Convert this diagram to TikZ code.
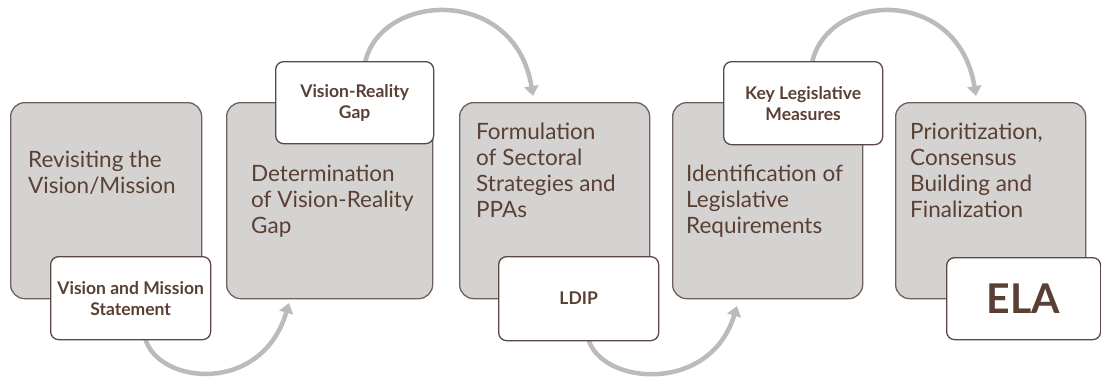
\documentclass[tikz,border=0pt]{standalone}
\usepackage{fontspec}
\setmainfont{Lato}
\usetikzlibrary{arrows.meta}
\definecolor{grayfill}{HTML}{D4D3D2}
\definecolor{grayline}{HTML}{6E605B}
\definecolor{wline}{HTML}{5A4842}
\definecolor{txt}{HTML}{5A4034}
\definecolor{arr}{HTML}{BDBAB9}
\begin{document}
\begin{tikzpicture}[x=1pt,y=-1pt,
  graybox/.style={draw=grayline, line width=1.3pt, fill=grayfill, rounded corners=14pt, inner sep=0pt, anchor=north west},
  whitebox/.style={draw=wline, line width=1.3pt, fill=white, rounded corners=8pt, inner sep=0pt, anchor=north west,
    align=center, text=txt, font=\bfseries\fontsize{17.5}{21}\selectfont},
  graytext/.style={anchor=north west, inner sep=0pt, align=left, text=txt, font=\fontsize{22.5}{26}\selectfont},
  flow/.style={draw=arr, line width=4.5pt, -{Triangle[length=10pt,width=14pt]}}]
\useasboundingbox (0,0) rectangle (1101,381);

% connector end points
\coordinate (a1s) at (145,338);
\coordinate (a1e) at (289,303);
\coordinate (a2s) at (365,63);
\coordinate (a2e) at (533,96);
\coordinate (a3s) at (588,338);
\coordinate (a3e) at (737,306);
\coordinate (a4s) at (812,63);
\coordinate (a4e) at (976,96);

% curved arrows
\draw[flow] (a1s) .. controls (158,385) and (262,395) .. (a1e);
\draw[flow] (a2s) .. controls (380,-8) and (515,-15) .. (a2e);
\draw[flow] (a3s) .. controls (600,385) and (710,395) .. (a3e);
\draw[flow] (a4s) .. controls (827,-8) and (958,-15) .. (a4e);

% gray step boxes
\node[graybox, minimum width=191pt, minimum height=196pt] (b1) at (10,102) {};
\node[graybox, minimum width=206pt, minimum height=196pt] (b2) at (226,102) {};
\node[graybox, minimum width=190pt, minimum height=196pt] (b3) at (459,102) {};
\node[graybox, minimum width=190pt, minimum height=196pt] (b4) at (672,102) {};
\node[graybox, minimum width=190pt, minimum height=196pt] (b5) at (895,102) {};

% step texts
\node[graytext] (t1) at (28,151) {Revisiting the\\Vision/Mission};
\node[graytext] (t2) at (251,165) {Determination\\of Vision-Reality\\Gap};
\node[graytext] (t3) at (476,123) {Formulation\\of Sectoral\\Strategies and\\PPAs};
\node[graytext] (t4) at (686,165) {Identification of\\Legislative\\Requirements};
\node[graytext] (t5) at (910,123) {Prioritization,\\Consensus\\Building and\\Finalization};

% white output boxes
\node[whitebox, minimum width=160pt, minimum height=83pt] (w1) at (50,256) {Vision and Mission\\Statement};
\node[whitebox, minimum width=158pt, minimum height=82pt] (w2) at (275,61) {Vision-Reality\\Gap};
\node[whitebox, minimum width=160pt, minimum height=84pt] (w3) at (498,256) {LDIP};
\node[whitebox, minimum width=159pt, minimum height=83pt] (w4) at (723,61) {Key Legislative\\Measures};
\node[whitebox, minimum width=154pt, minimum height=82pt, font=\bfseries\fontsize{41}{44}\selectfont] (w5) at (946,257) {ELA};
\end{tikzpicture}
\end{document}
